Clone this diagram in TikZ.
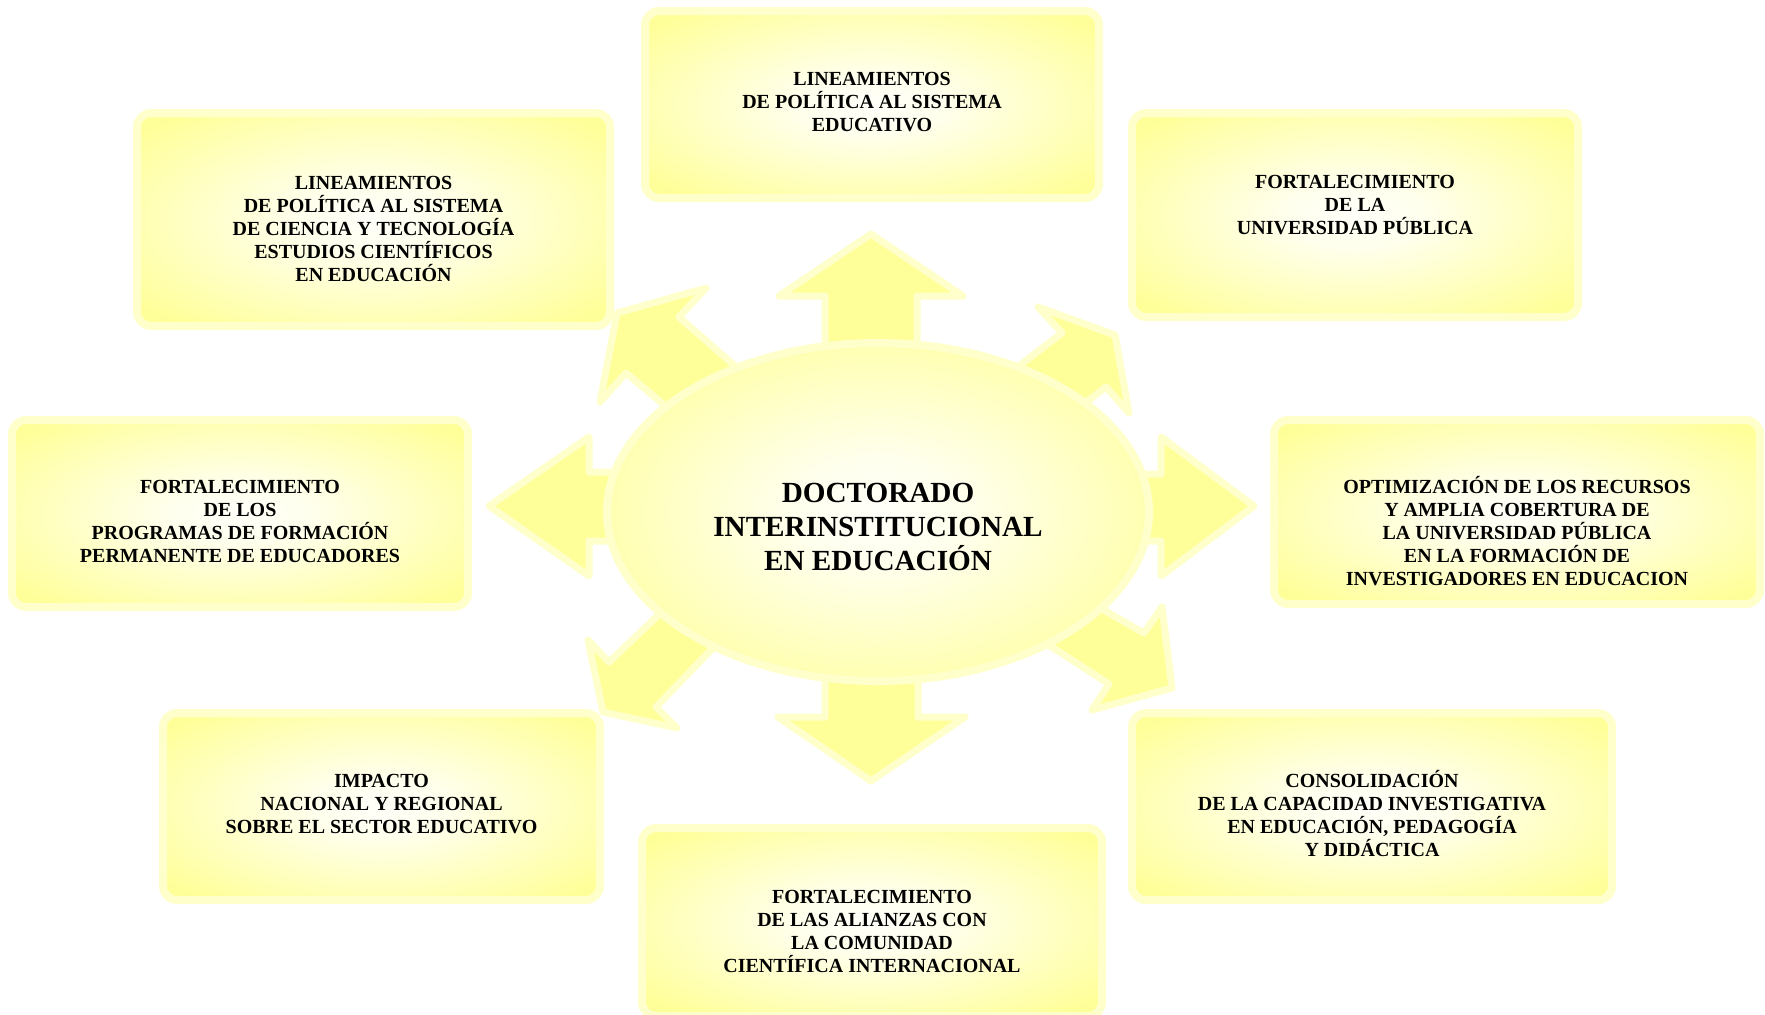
\documentclass[tikz,border=0pt]{standalone}
\usepackage{fontspec}
\setmainfont{Liberation Serif}
\usetikzlibrary{shapes.geometric}
\definecolor{amarillo}{RGB}{255,255,153}
\definecolor{brillo}{RGB}{255,255,204}
\pgfdeclareradialshading{resplandor}{\pgfpoint{0bp}{0bp}}{color(0bp)=(white!95!amarillo); color(8bp)=(white!82!amarillo); color(32bp)=(amarillo); color(50bp)=(amarillo)}
\begin{document}
\begin{tikzpicture}[x=0.5pt, y=-0.5pt,
    caja/.style={draw=brillo, line width=4pt, rounded corners=7pt, shading=resplandor, inner sep=0pt},
    texto/.style={align=center, inner sep=0pt, font=\bfseries\fontsize{10}{11.5}\selectfont},
    flecha/.style={draw=brillo, line width=3.5pt, line join=round, fill=amarillo}]
      \useasboundingbox (0,0) rectangle (1765,1014);
      %
      % flechas
      \draw[flecha] (871,234) -- (963,296) -- (917,296) -- (917,400) -- (825,400) -- (825,296) -- (779,296) -- cycle;
      \draw[flecha] (871,781) -- (965,717) -- (918,717) -- (918,620) -- (825,620) -- (825,717) -- (778,717) -- cycle;
      \draw[flecha] (489,506) -- (589,437) -- (589,472) -- (680,472) -- (680,541) -- (589,541) -- (589,576) -- cycle;
      \draw[flecha] (1254,506) -- (1161,437) -- (1161,474) -- (1080,474) -- (1080,541) -- (1161,541) -- (1161,576) -- cycle;
      \draw[flecha] (617,313) -- (706,288) -- (679,317) -- (760,388) -- (700,435) -- (626,373) -- (600,402) -- cycle;
      \draw[flecha] (1115,335) -- (1038,307) -- (1062,333) -- (990,388) -- (1050,430) -- (1106,387) -- (1129,413) -- cycle;
      \draw[flecha] (603,712) -- (588,640) -- (609,662) -- (690,585) -- (740,620) -- (656,707) -- (677,728) -- cycle;
      \draw[flecha] (1172,688) -- (1162,607) -- (1144,633) -- (1060,585) -- (1010,620) -- (1109,684) -- (1092,710) -- cycle;
      %
      % centro
      \node[ellipse, draw=brillo, line width=4pt, shading=resplandor, minimum width=271pt, minimum height=169pt,
        inner sep=0pt] (doctorado) at (878,512) {};
      \node[texto, font=\bfseries\fontsize{14.6}{17}\selectfont] (doctorado-texto) at (878,527)
        {DOCTORADO\\INTERINSTITUCIONAL\\EN EDUCACIÓN};
      %
      % cajas
      \node[caja, minimum width=236.5pt, minimum height=106.5pt] (ciencia) at (373.5,219.5) {};
      \node[caja, minimum width=227pt, minimum height=93.5pt] (sistema) at (872,104.5) {};
      \node[caja, minimum width=223pt, minimum height=102pt] (universidad) at (1355,215) {};
      \node[caja, minimum width=228pt, minimum height=93.5pt] (educadores) at (240,513.5) {};
      \node[caja, minimum width=243pt, minimum height=92pt] (recursos) at (1517,512) {};
      \node[caja, minimum width=218.5pt, minimum height=93.5pt] (impacto) at (381.5,806.5) {};
      \node[caja, minimum width=230pt, minimum height=94pt] (alianzas) at (872,922) {};
      \node[caja, minimum width=240pt, minimum height=93.5pt] (capacidad) at (1372,806.5) {};
      %
      % textos
      \node[texto] (ciencia-texto) at (373.5,228.5)
        {LINEAMIENTOS\\DE POLÍTICA AL SISTEMA\\DE CIENCIA Y TECNOLOGÍA\\ESTUDIOS CIENTÍFICOS\\EN EDUCACIÓN};
      \node[texto] (sistema-texto) at (872,102.5)
        {LINEAMIENTOS\\DE POLÍTICA AL SISTEMA\\EDUCATIVO};
      \node[texto] (universidad-texto) at (1355,205)
        {FORTALECIMIENTO\\DE LA\\UNIVERSIDAD PÚBLICA};
      \node[texto] (educadores-texto) at (240,521.5)
        {FORTALECIMIENTO\\DE LOS\\PROGRAMAS DE FORMACIÓN\\PERMANENTE DE EDUCADORES};
      \node[texto] (recursos-texto) at (1517,531)
        {OPTIMIZACIÓN DE LOS RECURSOS\\Y AMPLIA COBERTURA DE\\LA UNIVERSIDAD PÚBLICA\\EN LA FORMACIÓN DE\\INVESTIGADORES EN EDUCACION};
      \node[texto] (impacto-texto) at (381.5,804.5)
        {IMPACTO\\NACIONAL Y REGIONAL\\SOBRE EL SECTOR EDUCATIVO};
      \node[texto] (alianzas-texto) at (872,931)
        {FORTALECIMIENTO\\DE LAS ALIANZAS CON\\LA COMUNIDAD\\CIENTÍFICA INTERNACIONAL};
      \node[texto] (capacidad-texto) at (1372,813.5)
        {CONSOLIDACIÓN\\DE LA CAPACIDAD INVESTIGATIVA\\EN EDUCACIÓN, PEDAGOGÍA\\Y DIDÁCTICA};
      %
    \end{tikzpicture}
\end{document}
